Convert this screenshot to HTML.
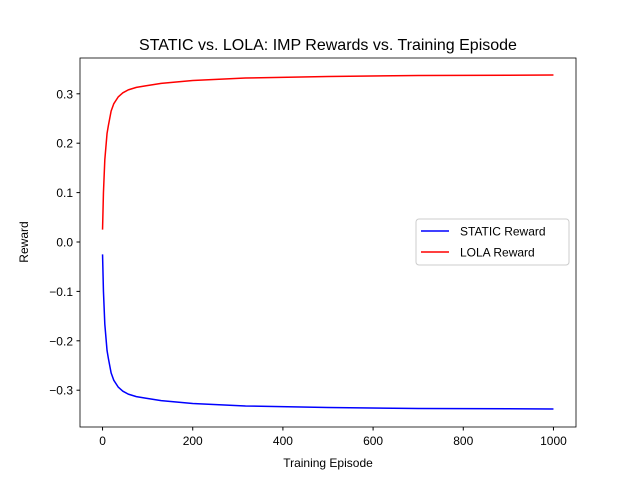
<!DOCTYPE html>
<html><head><meta charset="utf-8"><style>
body{margin:0;background:#fff}
svg{font-family:"Liberation Sans","DejaVu Sans",sans-serif}
</style></head><body>
<svg id="chart" width="640" height="480">
<rect width="640" height="480" fill="#fff"/>
<text x="328" y="50" font-size="16" text-anchor="middle">STATIC vs. LOLA: IMP Rewards vs. Training Episode</text>
<g id="axes"></g>
<g id="series"></g>
<rect x="80" y="58" width="496" height="369" fill="none" stroke="#000" stroke-width="0.8"/>
<text x="328" y="467" font-size="12" text-anchor="middle">Training Episode</text>
<text x="28" y="242" font-size="12" text-anchor="middle" transform="rotate(-90 28 242)">Reward</text>
<g>
<rect x="416" y="219" width="153" height="46" rx="3" fill="#fff" fill-opacity="0.8" stroke="#ccc"/>
<g>
<line x1="421" y1="231" x2="449" y2="231" stroke="#0000ff" stroke-width="1.5"/>
<text x="460" y="235.5" font-size="12">STATIC Reward</text></g>
<g>
<line x1="421" y1="252" x2="449" y2="252" stroke="#ff0000" stroke-width="1.5"/>
<text x="460" y="256.5" font-size="12">LOLA Reward</text></g>
</g>
</svg>
<script>
const episodes=[0,2,5,10,13,19,25,35,45,57,75,95,130,200,317,500,700,1000];
const lolaReward=[0.025,0.10,0.166,0.22,0.236,0.265,0.28,0.294,0.302,0.308,0.313,0.316,0.321,0.327,0.332,0.335,0.337,0.338];
const staticReward=[-0.025,-0.10,-0.166,-0.22,-0.236,-0.265,-0.28,-0.294,-0.302,-0.308,-0.313,-0.316,-0.321,-0.327,-0.332,-0.335,-0.337,-0.338];
const xTicks=[0,200,400,600,800,1000];
const yTicks=[-0.3,-0.2,-0.1,0.0,0.1,0.2,0.3];
const NS="http://www.w3.org/2000/svg";
function xs(v){return 80+(v+50)/1100*496;}
function ys(v){return 242-v*494;}
const axes=document.getElementById('axes');
xTicks.forEach(t=>{
 const l=document.createElementNS(NS,'line');
 l.setAttribute('x1',xs(t));l.setAttribute('x2',xs(t));l.setAttribute('y1',427);l.setAttribute('y2',430.5);l.setAttribute('stroke','#000');
 
 
 axes.appendChild(l);
 const tx=document.createElementNS(NS,'text');
 tx.setAttribute('x',xs(t));tx.setAttribute('y',445);tx.setAttribute('font-size','12');tx.setAttribute('text-anchor','middle');
 tx.textContent=t;
 
 
 axes.appendChild(tx);
});
yTicks.forEach(t=>{
 const l=document.createElementNS(NS,'line');
 l.setAttribute('x1',76.5);l.setAttribute('x2',80);l.setAttribute('y1',ys(t));l.setAttribute('y2',ys(t));l.setAttribute('stroke','#000');
 
 
 axes.appendChild(l);
 const tx=document.createElementNS(NS,'text');
 tx.setAttribute('x',73);tx.setAttribute('y',ys(t)+4.5);tx.setAttribute('font-size','12');tx.setAttribute('text-anchor','end');
 tx.textContent=(t<0?'\u2212':'')+Math.abs(t).toFixed(1);
 
 
 axes.appendChild(tx);
});
const series=document.getElementById('series');
function line(vals,color,name){
 const p=document.createElementNS(NS,'polyline');
 p.setAttribute('points',episodes.map((e,i)=>xs(e)+','+ys(vals[i])).join(' '));
 p.setAttribute('fill','none');p.setAttribute('stroke',color);p.setAttribute('stroke-width','1.5');p.setAttribute('stroke-linejoin','round');
 
 
 series.appendChild(p);
}
line(staticReward,'#0000ff','static-reward-line');
line(lolaReward,'#ff0000','lola-reward-line');
</script>
</body></html>
